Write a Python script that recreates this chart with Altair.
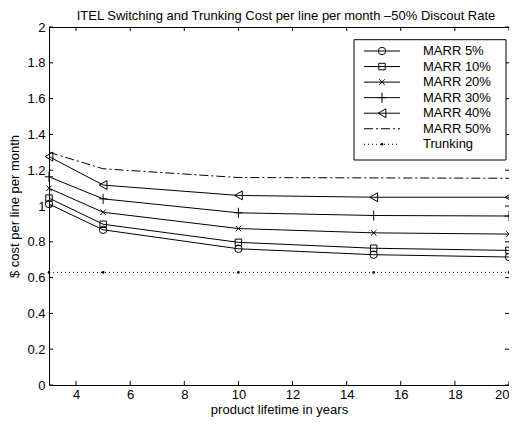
import altair as alt
import pandas as pd

years = [3, 5, 10, 15, 20]
marr5 = [1.011, 0.867, 0.761, 0.728, 0.715]
marr10 = [1.044, 0.898, 0.797, 0.764, 0.752]
marr20 = [1.099, 0.965, 0.874, 0.850, 0.843]
marr30 = [1.163, 1.040, 0.962, 0.947, 0.944]
marr40 = [1.276, 1.117, 1.059, 1.049, 1.049]
marr50 = [1.300, 1.208, 1.159, 1.157, 1.155]
trunking = [0.629, 0.629, 0.629, 0.629, 0.629]

series_names = ["MARR 5%", "MARR 10%", "MARR 20%", "MARR 30%", "MARR 40%", "MARR 50%", "Trunking"]
series_values = [marr5, marr10, marr20, marr30, marr40, marr50, trunking]

x_ticks = [4, 6, 8, 10, 12, 14, 16, 18, 20]
y_ticks = [0, 0.2, 0.4, 0.6, 0.8, 1.0, 1.2, 1.4, 1.6, 1.8, 2.0]

title_text = "ITEL Switching and Trunking Cost per line per month \u201350% Discout Rate"
x_title = "product lifetime in years"
y_title = "$ cost per line per month"

rows = []
for name, vals in zip(series_names, series_values):
    for yr, v in zip(years, vals):
        rows.append({"series": name, "years": yr, "cost": v})
df = pd.DataFrame(rows)

W, H = 460, 358
FONT = "Liberation Sans"
FS = 13

xs = alt.Scale(domain=[3, 20], nice=False, zero=False)
ys = alt.Scale(domain=[0, 2], nice=False)
x_axis = alt.Axis(values=x_ticks, title=x_title, tickSize=0, domain=False, grid=False,
                  labelPadding=3, titlePadding=2)
y_axis = alt.Axis(values=y_ticks, title=y_title, tickSize=0, domain=False, grid=False,
                  labelPadding=4, titlePadding=5, format="~g")
X = alt.X("years:Q", scale=xs, axis=x_axis)
Y = alt.Y("cost:Q", scale=ys, axis=y_axis)

solid_names = series_names[:5]
marker_shapes = {
    "MARR 5%": ("circle", 55),
    "MARR 10%": ("square", 42),
    "MARR 20%": ("M-1,-1L1,1M1,-1L-1,1", 30),
    "MARR 30%": ("M-1,0L1,0M0,-1.2L0,1.2", 70),
    "MARR 40%": ("triangle-left", 80),
}
dashes = [[1, 0], [1, 0], [1, 0], [1, 0], [1, 0], [9, 3, 2, 3], [1, 3]]

base = alt.Chart(df)
layers = []
layers.append(
    base.transform_filter(alt.FieldOneOfPredicate(field="series", oneOf=solid_names))
    .mark_line(color="black", strokeWidth=1)
    .encode(x=X, y=Y, detail="series:N")
)
layers.append(
    base.transform_filter(alt.datum.series == "MARR 50%")
    .mark_line(color="black", strokeWidth=1, strokeDash=[9, 3, 2, 3])
    .encode(x=X, y=Y)
)
layers.append(
    base.transform_filter(alt.datum.series == "Trunking")
    .mark_line(color="black", strokeWidth=1, strokeDash=[1, 3])
    .encode(x=X, y=Y)
)
layers.append(
    base.transform_filter(alt.datum.series == "Trunking")
    .mark_point(color="black", filled=True, shape="circle", size=7, opacity=1)
    .encode(x=X, y=Y)
)
for name in solid_names:
    shp, sz = marker_shapes[name]
    layers.append(
        base.transform_filter(alt.datum.series == name)
        .mark_point(color="black", filled=False, shape=shp, size=sz, strokeWidth=1, opacity=1)
        .encode(x=X, y=Y)
    )

# inward ticks on all four sides
xt = pd.DataFrame({"years": x_ticks})
yt = pd.DataFrame({"cost": y_ticks})
layers.append(alt.Chart(xt).mark_rule(color="black", strokeWidth=1)
              .encode(x=X, y=alt.value(H), y2=alt.value(H - 4)))
layers.append(alt.Chart(xt).mark_rule(color="black", strokeWidth=1)
              .encode(x=X, y=alt.value(0), y2=alt.value(4)))
layers.append(alt.Chart(yt).mark_rule(color="black", strokeWidth=1)
              .encode(y=Y, x=alt.value(0), x2=alt.value(4)))
layers.append(alt.Chart(yt).mark_rule(color="black", strokeWidth=1)
              .encode(y=Y, x=alt.value(W), x2=alt.value(W - 4)))

data_layer = alt.layer(*layers)

# legend
leg = pd.DataFrame({"series": series_names})
Yleg = alt.Y("series:N", scale=alt.Scale(type="point", domain=series_names, range=[24, 117.3], padding=0),
             axis=None)
box = alt.Chart(pd.DataFrame({"a": [0]})).mark_rect(fill="white", stroke="black", strokeWidth=1).encode(
    x=alt.value(305), x2=alt.value(457), y=alt.value(12.7), y2=alt.value(133))
leg_lines = alt.Chart(leg).mark_rule(color="black", strokeWidth=1).encode(
    x=alt.value(315), x2=alt.value(351), y=Yleg,
    strokeDash=alt.StrokeDash("series:N", scale=alt.Scale(domain=series_names, range=dashes), legend=None))
leg_layers = [box, leg_lines]
for name in solid_names:
    shp, sz = marker_shapes[name]
    leg_layers.append(
        alt.Chart(leg).transform_filter(alt.datum.series == name)
        .mark_point(color="black", filled=False, shape=shp, size=sz, strokeWidth=1, opacity=1)
        .encode(x=alt.value(333), y=Yleg)
    )
leg_layers.append(
    alt.Chart(leg).transform_filter(alt.datum.series == "Trunking")
    .mark_point(color="black", filled=True, shape="circle", size=7, opacity=1)
    .encode(x=alt.value(333), y=Yleg)
)
leg_layers.append(
    alt.Chart(leg).mark_text(align="left", baseline="middle", fontSize=FS, font=FONT, color="black")
    .encode(x=alt.value(374), y=Yleg, text="series:N")
)
legend_layer = alt.layer(*leg_layers)

chart = (
    alt.layer(data_layer, legend_layer)
    .resolve_scale(y="independent")
    .properties(
        width=W, height=H,
        title=alt.TitleParams(title_text, fontSize=FS, fontWeight="normal", font=FONT, offset=-1.5,
                              anchor="middle", frame="group", dx=7, color="black"),
        autosize=alt.AutoSizeParams(type="none"),
        padding={"left": 41, "top": 19, "right": 0, "bottom": 32},
    )
    .configure(background="white", font=FONT)
    .configure_view(stroke="black", strokeWidth=1)
    .configure_axis(labelFont=FONT, titleFont=FONT, labelFontSize=FS, titleFontSize=FS,
                    labelColor="black", titleColor="black", titleFontWeight="normal")
)

chart.save("out.html", embed_options={"renderer": "svg", "actions": False})
